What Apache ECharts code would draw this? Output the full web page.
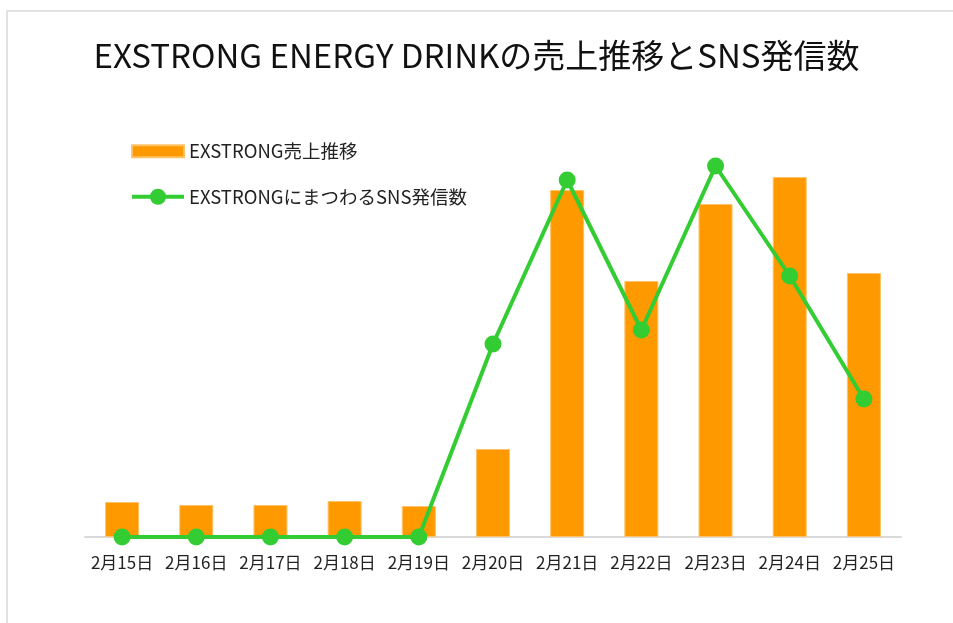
<!DOCTYPE html>
<html><head><meta charset="utf-8">
<script src="https://cdn.jsdelivr.net/npm/echarts@6/dist/echarts.min.js"></script>
<style>html,body{margin:0;padding:0;background:#fff}#c{width:953px;height:623px}</style>
</head><body><div id="c"></div>
<script>
const categories = ['2月15日','2月16日','2月17日','2月18日','2月19日','2月20日','2月21日','2月22日','2月23日','2月24日','2月25日'];
const salesValues = [35, 32, 32, 36, 31, 88, 347, 256, 333, 360, 264];
const snsValues = [0, 0, 0, 0, 0, 193, 357, 207, 371, 261, 138];
const titleText = 'EXSTRONG ENERGY DRINKの売上推移とSNS発信数';
const salesName = 'EXSTRONG売上推移';
const snsName = 'EXSTRONGにまつわるSNS発信数';

const FONT = '"Noto Sans CJK JP", "Noto Sans", sans-serif';
const chart = echarts.init(document.getElementById('c'), null, {renderer:'canvas'});
chart.setOption({
  animation:false,
  backgroundColor:'#fff',
  graphic:[{type:'rect', shape:{x:7, y:11, width:1000, height:700}, style:{fill:'none', stroke:'#d9d9d9', lineWidth:1.5}, silent:true}],
  title:{text:titleText, left:'center', top:34, textStyle:{fontFamily:FONT, fontSize:33, fontWeight:'normal', color:'#111'}},
  legend:{orient:'vertical', left:125, top:137, itemGap:27, itemWidth:52, itemHeight:20,
    textStyle:{fontFamily:FONT, fontSize:18.5, color:'#222'},
    data:[{name:salesName, icon:'path://M0,0H52V12H0Z'}, {name:snsName, lineStyle:{width:4}}]},
  grid:{left:85, right:52, top:137, bottom:86, containLabel:false},
  xAxis:{type:'category', data:categories,
    axisLine:{lineStyle:{color:'#d9d9d9', width:2}}, axisTick:{show:false},
    axisLabel:{fontFamily:FONT, fontSize:17, color:'#222', margin:17, interval:0}},
  yAxis:{type:'value', min:0, max:400, show:false, splitLine:{show:false}},
  series:[
    {name:salesName, type:'bar', data:salesValues, barWidth:34, itemStyle:{color:'#ff9900', borderColor:'#ffc266', borderWidth:1}},
    {name:snsName, type:'line', data:snsValues, symbol:'circle', symbolSize:17,
      lineStyle:{color:'#33cc33', width:4}, itemStyle:{color:'#33cc33'}}
  ]
});
</script></body></html>
